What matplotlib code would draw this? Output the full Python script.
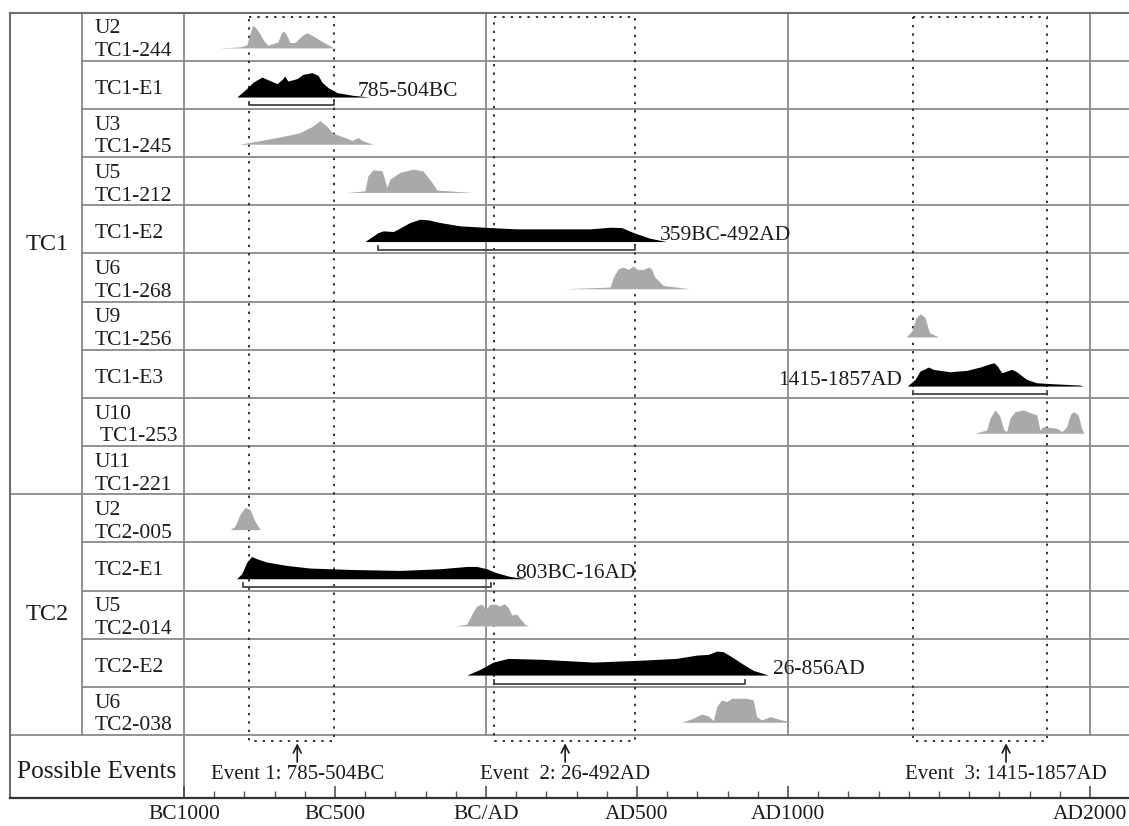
import matplotlib.pyplot as plt
from matplotlib.patches import Rectangle
from matplotlib.ticker import FixedLocator, FixedFormatter

plt.rcParams['font.family'] = ['Liberation Serif', 'DejaVu Serif']

# ---- data (years: negative = BC, heights = relative probability) ----
row_labels = [("U2", "TC1-244"), ("TC1-E1",), ("U3", "TC1-245"), ("U5", "TC1-212"),
              ("TC1-E2",), ("U6", "TC1-268"), ("U9", "TC1-256"), ("TC1-E3",),
              ("U10", " TC1-253"), ("U11", "TC1-221"),
              ("U2", "TC2-005"), ("TC2-E1",), ("U5", "TC2-014"), ("TC2-E2",), ("U6", "TC2-038")]
groups = ["TC1", "TC2"]
group_rows = [10, 5]

tc1_244_yr = [-884, -815, -792, -781, -772, -762, -748, -738, -722, -689, -679, -672, -662,
              -649, -632, -609, -593, -573, -540, -507, -497]
tc1_244_p = [0, 1, 3, 15, 22.6, 20, 14, 8, 2.6, 6, 14, 17, 14, 5.3, 5.5, 12.3, 15.3, 12, 6, 0.5, 0]

tc1_e1_yr = [-825, -788, -772, -742, -725, -692, -675, -666, -656, -626, -606, -576, -556,
             -543, -523, -493, -440, -384]
tc1_e1_p = [0, 9.7, 14.7, 20, 17.7, 13.4, 17.7, 21, 16, 18.4, 22.7, 24.4, 21.7, 14.7, 9.4, 4.4, 1.7, 0]

tc1_245_yr = [-818, -732, -649, -616, -576, -550, -526, -507, -460, -444, -424, -407, -374]
tc1_245_p = [0, 4.5, 9.3, 11.7, 17.7, 23.7, 17.7, 11, 6, 3.7, 6.7, 3.3, 0]

tc1_212_yr = [-460, -401, -391, -374, -344, -328, -318, -285, -242, -209, -179, -162, -43]
tc1_212_p = [0, 1.6, 16.6, 22.6, 21.6, 5, 13.3, 20, 23.3, 21.6, 10, 2.3, 0]

tc1_e2_yr = [-401, -357, -340, -307, -296, -252, -219, -191, -152, -86, 13, 102, 344, 411,
             449, 488, 543, 598]
tc1_e2_p = [0, 9, 10.7, 10, 11.7, 19, 22.3, 21.7, 19, 15.7, 14, 12.7, 12.7, 14.3, 14, 9, 3.3, 0]

tc1_268_yr = [256, 411, 422, 438, 455, 471, 488, 501, 521, 537, 548, 559, 587, 675]
tc1_268_p = [0, 1.7, 11.7, 20, 21.7, 19.3, 22.7, 19.3, 19.3, 21.7, 20, 11.7, 3.3, 0]

tc1_256_yr = [1391, 1410, 1424, 1439, 1454, 1468, 1498]
tc1_256_p = [0, 6, 19.3, 23.3, 19.3, 4.3, 0]

tc1_e3_yr = [1395, 1421, 1437, 1465, 1481, 1536, 1592, 1636, 1669, 1682, 1693, 1708, 1724,
             1741, 1757, 1790, 1823, 1879, 1967, 1978]
tc1_e3_p = [0, 6.7, 15, 19, 16.7, 14.3, 15.7, 19, 22.3, 23.3, 20, 13.3, 15, 16.7, 14.3, 6.7,
            3.3, 2.3, 1, 0]

tc1_253_yr = [1619, 1658, 1669, 1685, 1700, 1715, 1724, 1735, 1752, 1779, 1807, 1824, 1834,
              1845, 1868, 1890, 1907, 1923, 1934, 1945, 1961, 1972, 1980]
tc1_253_p = [0, 3.3, 15, 23.3, 18.3, 3.3, 1.7, 15, 21.7, 23.3, 20, 18.3, 3.3, 6.7, 5.7, 5,
             1.7, 6.7, 18.3, 21.7, 18.3, 5, 0]

tc2_005_yr = [-848, -831, -815, -798, -781, -765, -748]
tc2_005_p = [0, 3.3, 15, 22.3, 20, 8.3, 0]

tc2_e1_yr = [-826, -809, -792, -776, -759, -726, -660, -583, -450, -285, -152, -64, -31, 2,
             35, 79, 135]
tc2_e1_p = [0, 5, 16.7, 22.3, 20, 16.7, 13.3, 10.7, 9.3, 8.3, 10, 12.3, 12.3, 10, 6, 2.3, 0]

tc2_014_yr = [-103, -64, -47, -31, -14, 0, 13, 30, 46, 60, 74, 85, 102, 115, 129, 140]
tc2_014_p = [0, 1.7, 11.7, 20, 21.7, 16.7, 21.7, 21.7, 20, 22.3, 18.3, 11, 11.7, 6.7, 1.7, 0]

tc2_e2_yr = [-64, -20, 24, 74, 190, 355, 521, 631, 698, 736, 764, 786, 819, 852, 885, 935]
tc2_e2_p = [0, 5.7, 13, 16.7, 15.7, 13, 15, 16.7, 20, 20.7, 24, 23.3, 17.3, 10.7, 4.7, 0]

tc2_038_yr = [648, 686, 714, 736, 753, 764, 780, 797, 814, 863, 885, 896, 913, 940, 968, 1012]
tc2_038_p = [0, 4, 8.3, 6.3, 1.7, 15.7, 22.3, 20.7, 24, 24, 22.3, 5.7, 2.3, 5.7, 3.3, 0]

# modelled (black) event ranges
event_rows = [1, 4, 7, 11, 13]
event_ranges = [(-785, -504), (-359, 492), (1415, 1857), (-803, 16), (26, 856)]
event_texts = ["785-504BC", "359BC-492AD", "1415-1857AD", "803BC-16AD", "26-856AD"]

# possible events
possible_ranges = [(-785, -504), (26, 492), (1415, 1857)]
possible_texts = ["Event 1: 785-504BC", "Event  2: 26-492AD", "Event  3: 1415-1857AD"]
possible_arrow_yr = [-625, 262, 1722]

tick_years = [-1000, -500, 0, 500, 1000, 2000]
tick_labels = ["BC1000", "BC500", "BC/AD", "AD500", "AD1000", "AD2000"]

densities = [(tc1_244_yr, tc1_244_p), (tc1_e1_yr, tc1_e1_p), (tc1_245_yr, tc1_245_p),
             (tc1_212_yr, tc1_212_p), (tc1_e2_yr, tc1_e2_p), (tc1_268_yr, tc1_268_p),
             (tc1_256_yr, tc1_256_p), (tc1_e3_yr, tc1_e3_p), (tc1_253_yr, tc1_253_p), None,
             (tc2_005_yr, tc2_005_p), (tc2_e1_yr, tc2_e1_p), (tc2_014_yr, tc2_014_p),
             (tc2_e2_yr, tc2_e2_p), (tc2_038_yr, tc2_038_p)]

# ---- layout ----
W, H = 1129, 826
px_per_yr = 0.302
row_px = 48.17
x_left = -1000 - (184 - 9.5) / px_per_yr      # outer left border
x_right = -1000 + (W - 184) / px_per_yr
x_group = -1000 - (184 - 82) / px_per_yr      # group / label column divider
x_label = -1000 - (184 - 95) / px_per_yr
x_group_txt = -1000 - (184 - 47) / px_per_yr
x_pe_txt = -1000 - (184 - 97) / px_per_yr
n_rows = len(row_labels)
y_bottom = (797.7 - 12.5) / row_px
# where the range labels sit (left edge, or right edge for the 1415-1857AD one)
range_label_x = [-424, 576, 1376, 96, 951]
range_label_ha = ['left', 'left', 'right', 'left', 'left']

grid_c = '#8a8a8a'
txt_c = '#1e1a1b'
dot_ls = (0, (1.2, 3.1))

fig = plt.figure(figsize=(W / 100, H / 100), dpi=100)
ax = fig.add_axes([9.5 / W, (H - 797.7) / H, 1 - 9.5 / W, (797.7 - 12.5) / H])
ax.set_xlim(x_left, x_right)
ax.set_ylim(y_bottom, 0)

ax.spines['right'].set_visible(False)
for s in ['left', 'top']:
    ax.spines[s].set_color('#6e6e6e')
    ax.spines[s].set_linewidth(1.5)
ax.spines['bottom'].set_color('#333333')
ax.spines['bottom'].set_linewidth(1.6)
ax.yaxis.set_visible(False)

ax.xaxis.set_major_locator(FixedLocator(tick_years))
ax.xaxis.set_major_formatter(FixedFormatter(tick_labels))
ax.xaxis.set_minor_locator(FixedLocator([y for y in range(-1000, 2001, 100)
                                         if y not in tick_years]))
ax.tick_params(axis='x', which='major', direction='in', length=9, width=1.1,
               color='#444444', labelsize=15.5, pad=5, labelcolor=txt_c)
ax.tick_params(axis='x', which='minor', direction='in', length=5, width=1.0, color='#555555')

# table lines
for r in range(1, n_rows + 1):
    start = x_left if r in (group_rows[0], n_rows) else x_group
    ax.plot([start, x_right], [r, r], color=grid_c, lw=1.3, zorder=1)
ax.plot([x_group, x_group], [0, n_rows], color=grid_c, lw=1.3, zorder=1)
ax.plot([-1000, -1000], [0, y_bottom], color=grid_c, lw=1.3, zorder=1)
for yr in [0, 1000, 2000]:
    ax.plot([yr, yr], [0, n_rows], color=grid_c, lw=1.3, zorder=1)

# row labels
for r, lab in enumerate(row_labels):
    if len(lab) == 2:
        ax.text(x_label, r + 20.8 / row_px, lab[0], fontsize=15.5, va='baseline', color=txt_c)
        ax.text(x_label, r + 43.5 / row_px, lab[1], fontsize=15.5, va='baseline', color=txt_c)
    else:
        ax.text(x_label, r + 33 / row_px, lab[0], fontsize=15.5, va='baseline', color=txt_c)

ax.text(x_group_txt, (244 - 12.5) / row_px, groups[0], fontsize=17.5, ha='center', va='center',
        color=txt_c)
ax.text(x_group_txt, (615 - 12.5) / row_px, groups[1], fontsize=17.5, ha='center', va='center',
        color=txt_c)
ax.text(x_pe_txt, (772 - 12.5) / row_px, "Possible Events", fontsize=18.2, ha='center',
        va='center', color=txt_c)

# probability distributions
for r, d in enumerate(densities):
    if d is None:
        continue
    yrs, p = d
    black = r in event_rows
    base = r + (0.755 if black else 0.735)
    top = [base - v / row_px for v in p]
    ax.fill_between(yrs, base, top, color='#000000' if black else '#a9a9a9', lw=0, zorder=3)

# brackets and range labels
for r, (a, b), t, lx, ha in zip(event_rows, event_ranges, event_texts, range_label_x,
                                range_label_ha):
    yb = r + 0.93
    ax.plot([a, a, b, b], [yb - 0.08, yb, yb, yb - 0.08], color='#444444', lw=1.3, zorder=3)
    ax.text(lx, r + 0.73, t, fontsize=15.5, ha=ha, va='baseline', color=txt_c, zorder=4)

# possible-event boxes, arrows and labels
box_top = (17.3 - 12.5) / row_px
box_bot = (741 - 12.5) / row_px
for (a, b), t, xa in zip(possible_ranges, possible_texts, possible_arrow_yr):
    ax.add_patch(Rectangle((a, box_top), b - a, box_bot - box_top, fill=False,
                           ec='#333333', lw=1.4, ls=dot_ls, zorder=2))
    ax.annotate('', xy=(xa, (743.3 - 12.5) / row_px), xytext=(xa, (762 - 12.5) / row_px),
                arrowprops=dict(arrowstyle='->', lw=1.2, color=txt_c, mutation_scale=14,
                                shrinkA=0, shrinkB=0))
    ax.text(xa, (779.3 - 12.5) / row_px, t, fontsize=15, ha='center', va='baseline',
            color=txt_c)

fig.savefig('out.png', dpi=100)
